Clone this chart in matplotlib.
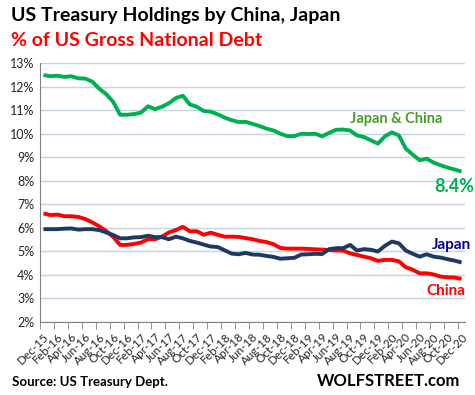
import matplotlib
matplotlib.use("Agg")
import matplotlib.pyplot as plt
import numpy as np

months = ["Dec-15","Jan-16","Feb-16","Mar-16","Apr-16","May-16","Jun-16","Jul-16","Aug-16","Sep-16","Oct-16","Nov-16",
          "Dec-16","Jan-17","Feb-17","Mar-17","Apr-17","May-17","Jun-17","Jul-17","Aug-17","Sep-17","Oct-17","Nov-17",
          "Dec-17","Jan-18","Feb-18","Mar-18","Apr-18","May-18","Jun-18","Jul-18","Aug-18","Sep-18","Oct-18","Nov-18",
          "Dec-18","Jan-19","Feb-19","Mar-19","Apr-19","May-19","Jun-19","Jul-19","Aug-19","Sep-19","Oct-19","Nov-19",
          "Dec-19","Jan-20","Feb-20","Mar-20","Apr-20","May-20","Jun-20","Jul-20","Aug-20","Sep-20","Oct-20","Nov-20",
          "Dec-20"]

japan_china = [12.50, 12.45, 12.47, 12.42, 12.45, 12.36, 12.35, 12.22, 11.92, 11.69, 11.36, 10.81,
               10.81, 10.84, 10.90, 11.17, 11.05, 11.15, 11.30, 11.52, 11.62, 11.25, 11.15, 10.97,
               10.94, 10.83, 10.69, 10.58, 10.50, 10.51, 10.42, 10.33, 10.22, 10.14, 10.00, 9.90,
               9.90, 10.00, 9.99, 10.00, 9.89, 10.04, 10.17, 10.18, 10.14, 9.93, 9.86, 9.72,
               9.58, 9.89, 10.06, 9.93, 9.37, 9.11, 8.87, 8.94, 8.77, 8.66, 8.56, 8.48,
               8.39]

china = [6.61, 6.54, 6.56, 6.49, 6.49, 6.46, 6.37, 6.23, 6.06, 5.86, 5.61, 5.27,
         5.27, 5.31, 5.37, 5.51, 5.51, 5.62, 5.80, 5.90, 6.04, 5.85, 5.85, 5.70,
         5.79, 5.70, 5.62, 5.62, 5.61, 5.56, 5.51, 5.44, 5.39, 5.30, 5.14, 5.11,
         5.11, 5.11, 5.10, 5.08, 5.07, 5.05, 5.03, 5.03, 4.91, 4.84, 4.77, 4.70,
         4.59, 4.63, 4.63, 4.57, 4.32, 4.21, 4.06, 4.06, 4.01, 3.92, 3.89, 3.88,
         3.82]

japan = [5.94, 5.94, 5.94, 5.96, 5.97, 5.92, 5.94, 5.94, 5.90, 5.80, 5.69, 5.55,
         5.55, 5.59, 5.60, 5.66, 5.60, 5.60, 5.51, 5.62, 5.55, 5.44, 5.37, 5.28,
         5.20, 5.18, 5.04, 4.90, 4.87, 4.93, 4.86, 4.85, 4.80, 4.76, 4.68, 4.70,
         4.72, 4.86, 4.87, 4.89, 4.88, 5.09, 5.13, 5.13, 5.27, 5.03, 5.09, 5.06,
         4.99, 5.23, 5.41, 5.34, 5.03, 4.89, 4.77, 4.87, 4.77, 4.73, 4.66, 4.60,
         4.52]

yticks = [2, 3, 4, 5, 6, 7, 8, 9, 10, 11, 12, 13]

FONT = ["Lato", "DejaVu Sans"]
plt.rcParams['font.family'] = FONT

fig = plt.figure(figsize=(4.75, 3.95), dpi=100)
ax = fig.add_axes([40/475, (395-321.7)/395, 425/475, 258.4/395])

x = np.arange(len(months))
ax.plot(x, japan_china, color="#00B050", lw=2.8, solid_capstyle="butt", zorder=3)
ax.plot(x, china, color="#FF0000", lw=2.8, solid_capstyle="butt", zorder=3)
ax.plot(x, japan, color="#1F3864", lw=2.8, solid_capstyle="butt", zorder=4)

ax.set_xlim(-0.5, len(months) - 0.5)
ax.set_ylim(2, 13)
ax.set_yticks(yticks)
ax.set_yticklabels([f"{v}%" for v in yticks], fontsize=9, color="#262626")
ax.grid(axis="y", color="#C5D3E3", lw=1.0, zorder=0)
ax.set_axisbelow(True)

lab_idx = list(range(0, len(months), 2))
ax.set_xticks(lab_idx)
ax.set_xticklabels([months[i] for i in lab_idx], rotation=45, ha="right",
                   rotation_mode="anchor", fontsize=8.5, color="#262626")
ax.set_xticks(np.arange(-0.5, len(months), 2), minor=True)
ax.tick_params(axis="x", which="major", length=0, pad=7)
ax.tick_params(axis="x", which="minor", length=5, color="#808080", direction="out")
ax.tick_params(axis="y", length=0, pad=4)

for s in ["top", "right"]:
    ax.spines[s].set_visible(False)
ax.spines["left"].set_color("#808080")
ax.spines["bottom"].set_color("#808080")

fig.text(11/475, 1 - 15/395, "US Treasury Holdings by China, Japan", fontsize=14,
         fontweight="bold", color="black", ha="left", va="center")
fig.text(11/475, 1 - 41/395, "% of US Gross National Debt", fontsize=14,
         fontweight="bold", color="#FF0000", ha="left", va="center")
fig.text(12/475, 1 - 381.5/395, "Source: US Treasury Dept.", fontsize=9.5,
         fontweight="bold", color="black", ha="left", va="center")
fig.text(460/475, 1 - 381.5/395, "WOLFSTREET.com", fontsize=12,
         fontweight="bold", color="black", ha="right", va="center")

ax.text(50.6, 10.62, "Japan & China", fontsize=10.5, fontweight="bold", color="#4C9A2A",
        ha="center", va="center")
ax.text(59.0, 7.75, "8.4%", fontsize=13, fontweight="bold", color="#00B050",
        ha="center", va="center")
ax.text(58.6, 5.26, "Japan", fontsize=11, fontweight="bold", color="#000099",
        ha="center", va="center")
ax.text(57.7, 3.32, "China", fontsize=11, fontweight="bold", color="#FF0000",
        ha="center", va="center")

fig.savefig("out.png", dpi=100)
